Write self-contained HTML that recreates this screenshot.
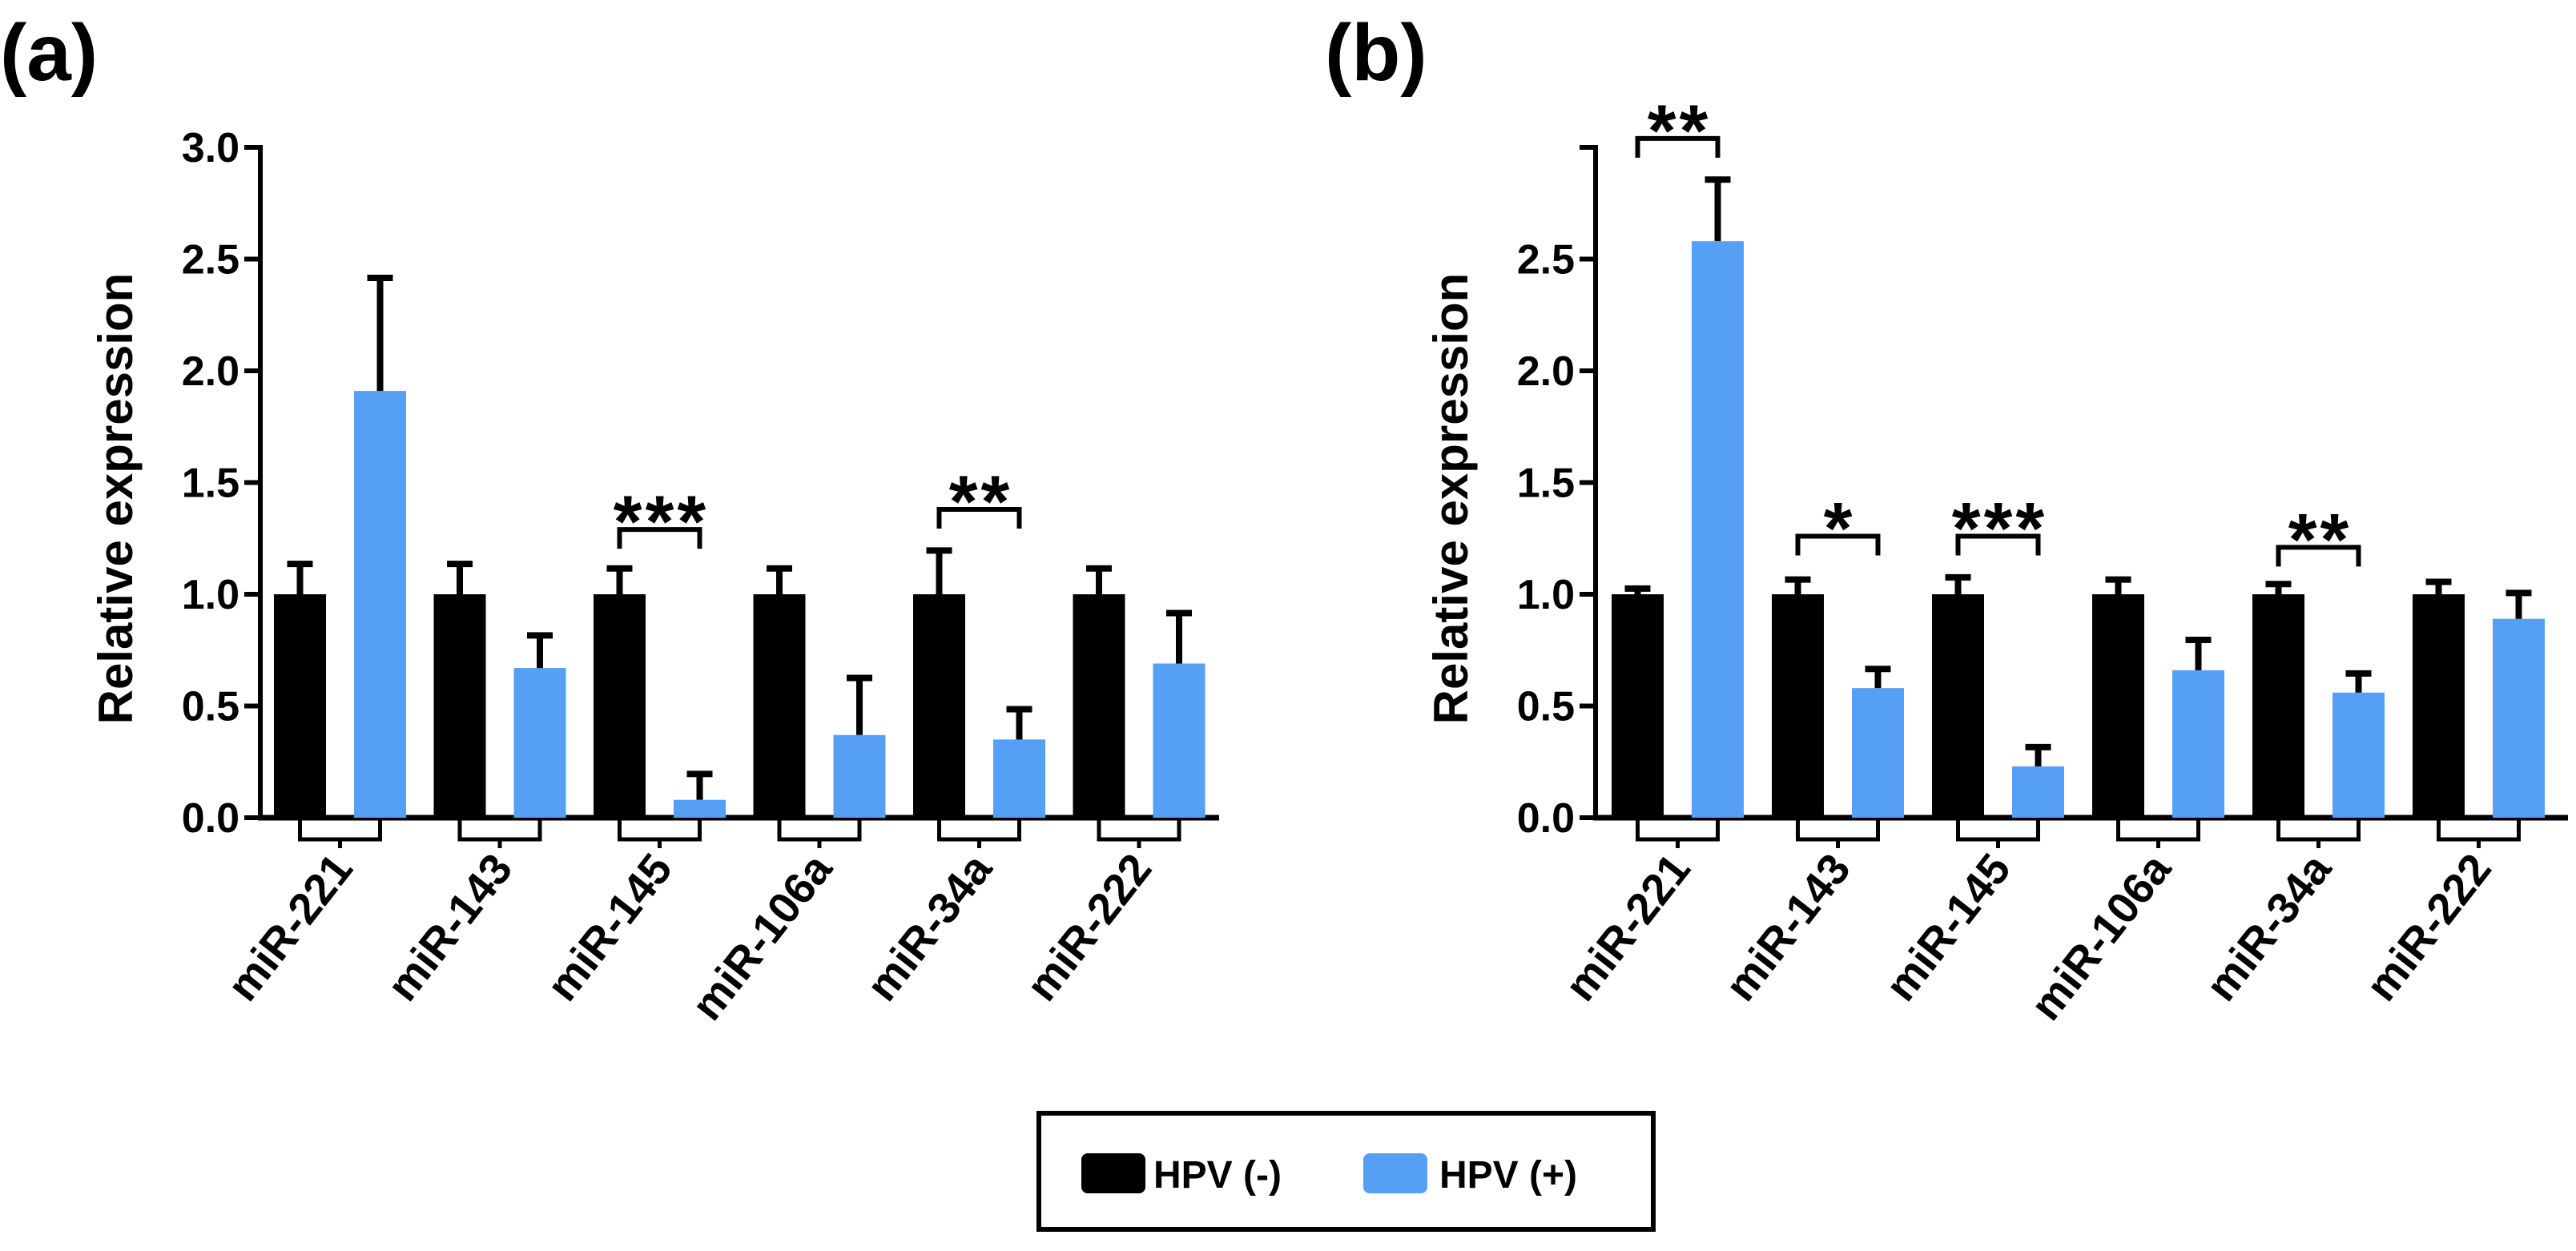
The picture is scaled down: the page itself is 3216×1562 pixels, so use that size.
<!DOCTYPE html>
<html><head><meta charset="utf-8"><style>
html,body{margin:0;padding:0;background:#fff;}
svg{display:block;font-family:"Liberation Sans",Arial,sans-serif;font-weight:bold;}
</style></head><body>
<svg id="fig" width="3216" height="1562" viewBox="0 0 3216 1562">
<g id="pa"></g>
<g id="pb"></g>
<g>
<rect x="1297" y="1390" width="767" height="145" fill="#fff" stroke="#000" stroke-width="6"/>
<rect x="1350" y="1440" width="80" height="50" rx="8" fill="#000"/>
<text x="1440" y="1483" font-size="48">HPV (-)</text>
<rect x="1702" y="1440" width="80" height="50" rx="8" fill="#559ff5"/>
<text x="1797" y="1483" font-size="48">HPV (+)</text>
</g>
</svg>
<script>
const categories = ["miR-221","miR-143","miR-145","miR-106a","miR-34a","miR-222"];
const aNeg = [1,1,1,1,1,1];
const aNegErr = [1.15,1.15,1.13,1.13,1.21,1.13];
const aPos = [1.91,0.67,0.08,0.37,0.35,0.69];
const aPosErr = [2.43,0.83,0.21,0.64,0.50,0.93];
const aSig = [null,null,"***",null,"**",null];
const aSigY = [0,0,1.29,0,1.38,0];
const bNeg = [1,1,1,1,1,1];
const bNegErr = [1.04,1.08,1.09,1.08,1.06,1.07];
const bPos = [2.58,0.58,0.23,0.66,0.56,0.89];
const bPosErr = [2.87,0.68,0.33,0.81,0.66,1.02];
const bSig = ["**","*","***",null,"**",null];
const bSigY = [3.04,1.26,1.26,0,1.21,0];
const yTicks = [0,0.5,1,1.5,2,2.5,3];
const aTickLabels = ["0.0","0.5","1.0","1.5","2.0","2.5","3.0"];
const bTickLabels = ["0.0","0.5","1.0","1.5","2.0","2.5",""];

const NS="http://www.w3.org/2000/svg";
function mk(parent,tag,attrs,txt){const e=document.createElementNS(NS,tag);for(const k in attrs)e.setAttribute(k,attrs[k]);if(txt!==undefined)e.textContent=txt;parent.appendChild(e);return e;}

function drawPanel(g,o){
  const base=1021, unit=279;
  const y=v=>base-v*unit;
  const x0=o.axisX, step=o.step, barW=65;
  const bx=i=>x0+o.firstOff+i*step;
  const pl=mk(g,'text',{x:o.letterX,y:100,'font-size':100},o.letter);
  
  
  const yt=mk(g,'text',{x:0,y:0,'font-size':60,'text-anchor':'middle',transform:`translate(${x0-160},${y(1.5)+20}) rotate(-90)`},'Relative expression');
  
  
  yTicks.forEach((t,i)=>{
    const tk=mk(g,'line',{x1:x0-20,x2:x0,y1:y(t),y2:y(t),stroke:'#000','stroke-width':6});
    
    
    if(o.labels[i]){
      const tl=mk(g,'text',{x:x0-26,y:y(t)+18,'font-size':52,'text-anchor':'end'},o.labels[i]);
      
      
    }
  });
  const ax=mk(g,'line',{x1:x0,x2:x0,y1:y(3)-3,y2:base+3,stroke:'#000','stroke-width':6});
  
  
  const xa=mk(g,'line',{x1:x0-3,x2:o.axisEnd,y1:base,y2:base,stroke:'#000','stroke-width':7});
  
  
  categories.forEach((c,i)=>{
    const xb=bx(i), xp=xb+100;
    const rn=mk(g,'rect',{x:xb,y:y(o.neg[i]),width:barW,height:base-y(o.neg[i]),fill:'#000'});
    
    
    const rp=mk(g,'rect',{x:xp,y:y(o.pos[i]),width:barW,height:base-y(o.pos[i]),fill:'#559ff5'});
    
    
    [[xb,o.neg[i],o.negErr[i]],[xp,o.pos[i],o.posErr[i]]].forEach(([xx,v,e])=>{
      const cx=xx+barW/2;
      const el=mk(g,'path',{d:`M${cx},${y(v)} V${y(e)} M${cx-16},${y(e)+4} H${cx+16}`,stroke:'#000','stroke-width':8,fill:'none'});
      
      
    });
    const c1=xb+barW/2, c2=xp+barW/2, gc=(c1+c2)/2;
    const br=mk(g,'path',{d:`M${c1},${base} V${base+27} H${c2} V${base} M${gc},${base+27} V${base+38}`,stroke:'#000','stroke-width':5,fill:'none'});
    
    
    const lb=mk(g,'text',{x:0,y:0,'font-size':55,'text-anchor':'end',transform:`translate(${gc+18},${base+64}) rotate(-52)`},c);
    
    
    if(o.sig[i]){
      const sy=y(o.sigY[i]);
      const sb=mk(g,'path',{d:`M${c1},${sy+24} V${sy} H${c2} V${sy+24}`,stroke:'#000','stroke-width':6,fill:'none'});
      
      
      const st=mk(g,'text',{x:gc+2,y:sy+22,'font-size':92,'text-anchor':'middle','letter-spacing':'4'},o.sig[i]);
      
      
    }
  });
}
drawPanel(document.getElementById('pa'),{axisX:325,firstOff:17,step:199.5,axisEnd:1522,letter:'(a)',letterX:0,labels:aTickLabels,neg:aNeg,negErr:aNegErr,pos:aPos,posErr:aPosErr,sig:aSig,sigY:aSigY});
drawPanel(document.getElementById('pb'),{axisX:1992,firstOff:20,step:200,axisEnd:3206,letter:'(b)',letterX:1654,labels:bTickLabels,neg:bNeg,negErr:bNegErr,pos:bPos,posErr:bPosErr,sig:bSig,sigY:bSigY});
</script>
</body></html>
